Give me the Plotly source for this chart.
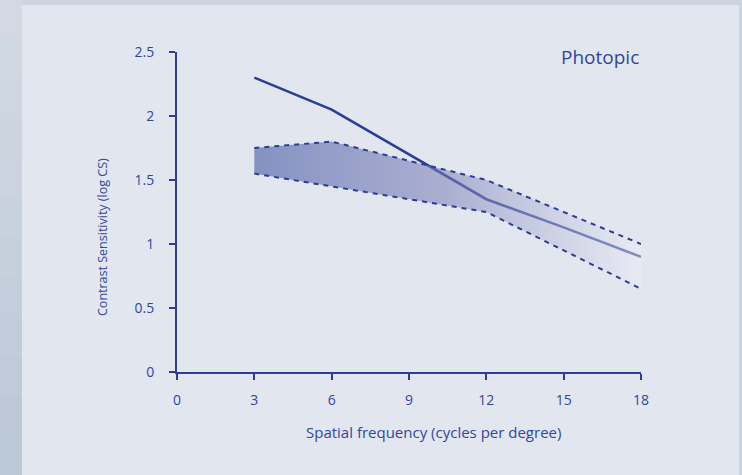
import plotly.graph_objects as go

# ---- data ----
freq = [3, 6, 9, 12, 15, 18]
photopic_mean = [2.3, 2.05, 1.7, 1.35, 1.13, 0.9]
band_upper = [1.75, 1.8, 1.65, 1.5, 1.25, 1.0]
band_lower = [1.55, 1.45, 1.35, 1.25, 0.95, 0.65]
x_ticks = [0, 3, 6, 9, 12, 15, 18]
y_ticks = [0, 0.5, 1, 1.5, 2, 2.5]
y_tick_labels = ["0", "0.5", "1", "1.5", "2", "2.5"]

NAVY = "#2b3d94"
TXT = "#34469c"
FONT = "Open Sans"

W, H = 742, 475
L, R, T, B = 177, 101, 52, 103
pw, ph = W - L - R, H - T - B


def px_x(p):
    return (p - L) / pw


def px_y(p):
    return (H - B - p) / ph


fig = go.Figure()

# solid mean line (drawn first, band overlays it)
fig.add_trace(go.Scatter(x=freq, y=photopic_mean, mode="lines",
                         line=dict(color=NAVY, width=2.6),
                         hoverinfo="skip", showlegend=False))

# band fill
fig.add_trace(go.Scatter(x=freq, y=band_lower, mode="lines",
                         line=dict(width=0, color="rgba(0,0,0,0)"),
                         hoverinfo="skip", showlegend=False))
fig.add_trace(go.Scatter(x=freq, y=band_upper, mode="lines",
                         line=dict(width=0, color="rgba(0,0,0,0)"),
                         fill="tonexty",
                         fillgradient=dict(type="horizontal",
                                           colorscale=[[0, "rgba(80,98,168,0.64)"],
                                                       [0.5, "rgba(122,126,182,0.53)"],
                                                       [1, "rgba(238,238,246,0.45)"]]),
                         hoverinfo="skip", showlegend=False))

# dashed boundaries
for ys in (band_upper, band_lower):
    fig.add_trace(go.Scatter(x=freq, y=ys, mode="lines",
                             line=dict(color=NAVY, width=2, dash="5px,5px"),
                             hoverinfo="skip", showlegend=False))

shapes = []
# left strip gradient
top_c = (211, 218, 228)
bot_c = (186, 199, 215)
n = 12
for i in range(n):
    t = (i + 0.5) / n
    c = tuple(int(round(top_c[k] + (bot_c[k] - top_c[k]) * t)) for k in range(3))
    shapes.append(dict(type="rect", xref="paper", yref="paper", layer="below",
                       x0=px_x(0), x1=px_x(22),
                       y0=px_y(H * (i + 1) / n), y1=px_y(H * i / n),
                       fillcolor="rgb(%d,%d,%d)" % c, line=dict(width=0)))
# light panel
shapes.append(dict(type="rect", xref="paper", yref="paper", layer="below",
                   x0=px_x(22), x1=px_x(739), y0=px_y(H), y1=px_y(5),
                   fillcolor="#e1e6ef", line=dict(width=0)))

annotations = [
    dict(text="Photopic", x=px_x(641), y=px_y(57), xref="paper", yref="paper",
         xanchor="right", yanchor="middle", showarrow=False,
         font=dict(family=FONT, size=19, color=TXT)),
    dict(text="Spatial frequency (cycles per degree)", x=px_x(433), y=px_y(432),
         xref="paper", yref="paper", xanchor="center", yanchor="middle",
         showarrow=False, font=dict(family=FONT, size=15, color=TXT)),
    dict(text="Contrast Sensitivity (log CS)", x=px_x(102), y=px_y(237),
         xref="paper", yref="paper", xanchor="center", yanchor="middle",
         textangle=-90, showarrow=False, font=dict(family=FONT, size=12.5, color=TXT)),
]

fig.update_layout(
    width=W, height=H,
    margin=dict(l=L, r=R, t=T, b=B, pad=0),
    paper_bgcolor="#cbd4df",
    plot_bgcolor="rgba(0,0,0,0)",
    shapes=shapes,
    annotations=annotations,
    showlegend=False,
    xaxis=dict(range=[0, 18], tickvals=x_ticks, showgrid=False, zeroline=False,
               showline=True, linecolor=NAVY, linewidth=2,
               ticks="outside", ticklen=6, tickwidth=2, tickcolor=NAVY,
               ticklabelstandoff=8,
               tickfont=dict(family=FONT, size=14, color=TXT), fixedrange=True),
    yaxis=dict(range=[0, 2.5], tickvals=y_ticks, ticktext=y_tick_labels,
               showgrid=False, zeroline=False,
               showline=True, linecolor=NAVY, linewidth=2,
               ticks="outside", ticklen=6, tickwidth=2, tickcolor=NAVY,
               ticklabelstandoff=12,
               tickfont=dict(family=FONT, size=14, color=TXT), fixedrange=True),
)

fig.write_html("out.html",
               config={"displayModeBar": False},
               post_script="document.body.style.margin='0';"
                           "document.body.style.overflow='hidden';"
                           "document.body.style.background='#cbd4df';")
